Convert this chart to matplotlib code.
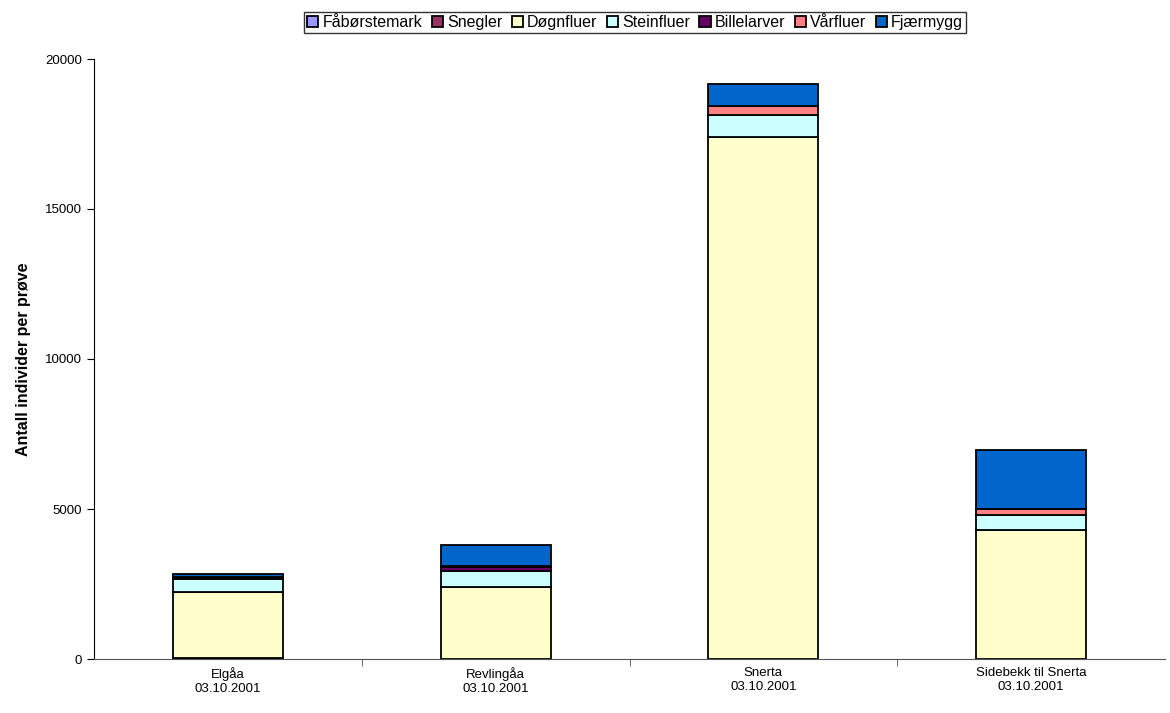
#!/usr/bin/env python3

import numpy as np
import matplotlib
matplotlib.use('Agg')
import matplotlib.pyplot as plt

plt.rcParams['font.family'] = ['Liberation Sans', 'DejaVu Sans']

sites = ['Elgåa\n03.10.2001', 'Revlingåa\n03.10.2001',
         'Snerta\n03.10.2001', 'Sidebekk til Snerta\n03.10.2001']

groups = ['Fåbørstemark', 'Snegler', 'Døgnfluer', 'Steinfluer',
          'Billelarver', 'Vårfluer', 'Fjærmygg']
colors = ['#9999FF', '#993366', '#FFFFCC', '#CCFFFF',
          '#660066', '#FF8080', '#0066CC']

faborstemark = [30, 0, 0, 0]
snegler = [0, 10, 0, 0]
dognfluer = [2210, 2400, 17400, 4285]
steinfluer = [430, 525, 735, 515]
billelarver = [20, 120, 0, 0]
varfluer = [30, 50, 290, 200]
fjaermygg = [130, 700, 745, 1980]

series = [faborstemark, snegler, dognfluer, steinfluer,
          billelarver, varfluer, fjaermygg]


def main():
    fig = plt.figure(figsize=(11.7, 7.13), dpi=100)
    ax = fig.add_axes([94 / 1170, 1 - 659 / 713, 1071 / 1170, 600 / 713])

    x = np.arange(len(sites))
    bottom = np.zeros(len(sites))
    for name, vals, col in zip(groups, series, colors):
        vals = np.array(vals, dtype=float)
        ax.bar(x, vals, width=0.41, bottom=bottom, color=col,
               edgecolor='black', linewidth=1.3, label=name)
        bottom += vals

    ax.set_xlim(-0.5, 3.5)
    ax.set_ylim(0, 20000)
    ax.set_yticks([0, 5000, 10000, 15000, 20000])
    ax.set_xticks(x)
    ax.set_xticklabels(sites, fontsize=9.5)
    ax.set_xticks([0.5, 1.5, 2.5], minor=True)
    ax.tick_params(axis='x', which='major', length=0, pad=6)
    ax.tick_params(axis='x', which='minor', length=5, direction='out',
                   color='#555555')
    ax.tick_params(axis='y', length=5, direction='out', labelsize=9.5)
    for side in ['top', 'right']:
        ax.spines[side].set_visible(False)
    ax.spines['bottom'].set_color('#555555')
    ax.set_ylabel('Antall individer per prøve', fontsize=11.5,
                  fontweight='bold', labelpad=10)

    fig.legend(
        loc='upper center',
        bbox_to_anchor=(635 / 1170, 1 - 4 / 713),
        ncol=7,
        fontsize=11.5,
        frameon=True,
        fancybox=False,
        edgecolor='black',
        handlelength=0.7,
        handleheight=0.7,
        handletextpad=0.25,
        columnspacing=0.6,
        borderpad=0.2,
    )

    fig.savefig('out.png', dpi=100)


if __name__ == "__main__":
    main()
